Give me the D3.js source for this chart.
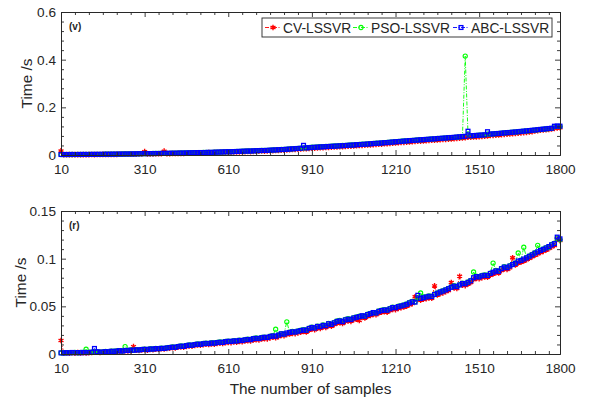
<!DOCTYPE html>
<html>
<head>
<meta charset="utf-8">
<script src="https://cdn.jsdelivr.net/npm/d3@7"></script>
<style>
  body { margin: 0; background: #fff; }
  svg { display: block; font-family: "Liberation Sans", Arial, Helvetica, sans-serif; }
</style>
</head>
<body>
<svg id="chart" width="589" height="399"></svg>
<script>
// Sample sizes on the shared horizontal axis
const sampleSizes = d3.range(10, 1801, 10);
const xTickValues = [10, 310, 610, 910, 1210, 1510, 1800];
const xTickLabels = ["10", "310", "610", "910", "1210", "1510", "1800"];

const seriesNames = ["CV-LSSVR", "PSO-LSSVR", "ABC-LSSVR"];

// Panel (v): computation time in seconds
const cvV = [
  0.0170,0.0012,0.0016,0.0013,0.0017,0.0014,0.0016,0.0015,0.0018,0.0016,
  0.0018,0.0020,0.0019,0.0022,0.0020,0.0023,0.0025,0.0024,0.0027,0.0026,
  0.0029,0.0031,0.0030,0.0034,0.0032,0.0036,0.0035,0.0039,0.0041,0.0044,
  0.0140,0.0045,0.0050,0.0048,0.0052,0.0051,0.0056,0.0160,0.0057,0.0061,
  0.0064,0.0062,0.0067,0.0070,0.0069,0.0074,0.0077,0.0080,0.0083,0.0086,
  0.0090,0.0088,0.0093,0.0097,0.0095,0.0101,0.0105,0.0109,0.0112,0.0117,
  0.0121,0.0119,0.0125,0.0130,0.0133,0.0138,0.0142,0.0147,0.0145,0.0153,
  0.0158,0.0162,0.0168,0.0166,0.0173,0.0178,0.0184,0.0190,0.0196,0.0202,
  0.0206,0.0214,0.0222,0.0230,0.0237,0.0244,0.0252,0.0262,0.0268,0.0276,
  0.0286,0.0292,0.0297,0.0305,0.0310,0.0316,0.0323,0.0330,0.0335,0.0342,
  0.0349,0.0354,0.0361,0.0370,0.0375,0.0381,0.0392,0.0397,0.0405,0.0411,
  0.0420,0.0427,0.0437,0.0444,0.0451,0.0459,0.0471,0.0476,0.0488,0.0496,
  0.0507,0.0513,0.0523,0.0533,0.0541,0.0551,0.0558,0.0566,0.0577,0.0585,
  0.0591,0.0601,0.0607,0.0618,0.0624,0.0635,0.0643,0.0650,0.0658,0.0669,
  0.0677,0.0685,0.0696,0.0706,0.0717,0.0725,0.0744,0.0747,0.0755,0.0763,
  0.0771,0.0779,0.0787,0.0800,0.0818,0.0826,0.0836,0.0844,0.0856,0.0868,
  0.0879,0.0887,0.0898,0.0907,0.0918,0.0930,0.0941,0.0951,0.0964,0.0976,
  0.1012,0.1026,0.1038,0.1050,0.1062,0.1076,0.1090,0.1120,0.1138,0.1142
];
const psoV = [
  0.0019,0.0020,0.0018,0.0021,0.0022,0.0019,0.0024,0.0022,0.0023,0.0025,
  0.0026,0.0025,0.0028,0.0027,0.0030,0.0029,0.0032,0.0034,0.0033,0.0036,
  0.0039,0.0038,0.0041,0.0042,0.0044,0.0045,0.0047,0.0050,0.0051,0.0054,
  0.0057,0.0058,0.0060,0.0062,0.0063,0.0065,0.0066,0.0069,0.0071,0.0072,
  0.0077,0.0078,0.0079,0.0084,0.0085,0.0086,0.0092,0.0094,0.0096,0.0101,
  0.0103,0.0106,0.0109,0.0111,0.0114,0.0118,0.0122,0.0124,0.0131,0.0133,
  0.0139,0.0141,0.0142,0.0150,0.0151,0.0159,0.0161,0.0168,0.0170,0.0175,
  0.0181,0.0185,0.0188,0.0192,0.0198,0.0204,0.0210,0.0216,0.0224,0.0230,
  0.0236,0.0243,0.0253,0.0262,0.0270,0.0278,0.0288,0.0296,0.0306,0.0312,
  0.0326,0.0330,0.0342,0.0346,0.0354,0.0360,0.0366,0.0374,0.0380,0.0386,
  0.0392,0.0398,0.0406,0.0414,0.0420,0.0428,0.0438,0.0444,0.0452,0.0460,
  0.0470,0.0476,0.0486,0.0494,0.0502,0.0510,0.0522,0.0530,0.0542,0.0552,
  0.0560,0.0568,0.0578,0.0588,0.0596,0.0606,0.0614,0.0622,0.0632,0.0640,
  0.0646,0.0656,0.0664,0.0674,0.0680,0.0692,0.0700,0.0708,0.0716,0.0726,
  0.0732,0.0740,0.0750,0.0760,0.0770,0.4150,0.0878,0.0804,0.0812,0.0820,
  0.0828,0.0836,0.0846,0.0870,0.0876,0.0884,0.0894,0.0902,0.0914,0.0926,
  0.0936,0.0944,0.0956,0.0964,0.0976,0.0988,0.1000,0.1010,0.1022,0.1034,
  0.1046,0.1058,0.1070,0.1082,0.1094,0.1108,0.1120,0.1186,0.1204,0.1200
];
const abcV = [
  0.0021,0.0018,0.0022,0.0019,0.0024,0.0020,0.0023,0.0021,0.0025,0.0022,
  0.0024,0.0027,0.0025,0.0029,0.0026,0.0030,0.0033,0.0031,0.0035,0.0034,
  0.0037,0.0040,0.0038,0.0043,0.0041,0.0046,0.0044,0.0049,0.0052,0.0055,
  0.0058,0.0055,0.0061,0.0059,0.0064,0.0062,0.0067,0.0070,0.0068,0.0073,
  0.0076,0.0074,0.0080,0.0083,0.0081,0.0087,0.0090,0.0093,0.0097,0.0100,
  0.0104,0.0102,0.0108,0.0112,0.0110,0.0117,0.0121,0.0125,0.0129,0.0134,
  0.0138,0.0136,0.0143,0.0148,0.0152,0.0157,0.0162,0.0167,0.0165,0.0174,
  0.0179,0.0184,0.0190,0.0188,0.0196,0.0202,0.0208,0.0214,0.0221,0.0228,
  0.0232,0.0241,0.0250,0.0258,0.0266,0.0274,0.0282,0.0405,0.0298,0.0306,
  0.0318,0.0324,0.0330,0.0338,0.0344,0.0350,0.0358,0.0365,0.0370,0.0378,
  0.0385,0.0391,0.0398,0.0408,0.0413,0.0420,0.0432,0.0437,0.0446,0.0452,
  0.0462,0.0470,0.0481,0.0488,0.0496,0.0505,0.0518,0.0523,0.0536,0.0544,
  0.0556,0.0562,0.0573,0.0584,0.0592,0.0603,0.0610,0.0618,0.0630,0.0638,
  0.0644,0.0655,0.0661,0.0672,0.0678,0.0690,0.0698,0.0706,0.0714,0.0726,
  0.0734,0.0742,0.0754,0.0764,0.0776,0.0784,0.0998,0.0806,0.0814,0.0822,
  0.0830,0.0838,0.0846,0.0978,0.0878,0.0886,0.0896,0.0904,0.0916,0.0928,
  0.0938,0.0946,0.0958,0.0966,0.0978,0.0990,0.1002,0.1012,0.1026,0.1038,
  0.1048,0.1062,0.1074,0.1086,0.1098,0.1112,0.1124,0.1208,0.1216,0.1210
];

// Panel (r): computation time in seconds
const cvR = [
  0.0142,0.0009,0.0012,0.0008,0.0013,0.0010,0.0014,0.0011,0.0013,0.0012,
  0.0015,0.0016,0.0021,0.0018,0.0017,0.0019,0.0022,0.0020,0.0026,0.0024,
  0.0028,0.0031,0.0027,0.0034,0.0033,0.0036,0.0077,0.0040,0.0038,0.0043,
  0.0046,0.0041,0.0049,0.0045,0.0052,0.0050,0.0055,0.0053,0.0058,0.0062,
  0.0066,0.0064,0.0071,0.0075,0.0073,0.0080,0.0085,0.0083,0.0090,0.0094,
  0.0093,0.0098,0.0103,0.0100,0.0106,0.0104,0.0110,0.0113,0.0111,0.0119,
  0.0122,0.0120,0.0126,0.0124,0.0131,0.0129,0.0136,0.0140,0.0138,0.0147,
  0.0151,0.0149,0.0157,0.0162,0.0159,0.0170,0.0176,0.0172,0.0183,0.0196,
  0.0192,0.0205,0.0210,0.0216,0.0214,0.0222,0.0229,0.0236,0.0232,0.0250,
  0.0262,0.0255,0.0272,0.0268,0.0283,0.0278,0.0300,0.0292,0.0309,0.0323,
  0.0330,0.0321,0.0340,0.0348,0.0343,0.0360,0.0366,0.0352,0.0383,0.0379,
  0.0396,0.0405,0.0416,0.0412,0.0430,0.0438,0.0443,0.0440,0.0456,0.0468,
  0.0466,0.0478,0.0486,0.0494,0.0503,0.0517,0.0529,0.0600,0.0572,0.0566,
  0.0574,0.0581,0.0588,0.0585,0.0714,0.0620,0.0632,0.0642,0.0655,0.0666,
  0.0750,0.0693,0.0688,0.0815,0.0722,0.0718,0.0734,0.0750,0.0782,0.0794,
  0.0790,0.0802,0.0808,0.0805,0.0826,0.0840,0.0854,0.0850,0.0877,0.0893,
  0.0887,0.0904,0.1010,0.0934,0.0956,0.0962,0.0976,0.0989,0.1005,0.1020,
  0.1037,0.1051,0.1065,0.1077,0.1091,0.1106,0.1124,0.1138,0.1205,0.1190
];
const psoR = [
  0.0011,0.0013,0.0012,0.0015,0.0014,0.0016,0.0013,0.0018,0.0016,0.0050,
  0.0018,0.0020,0.0024,0.0021,0.0020,0.0023,0.0026,0.0024,0.0031,0.0029,
  0.0033,0.0036,0.0032,0.0077,0.0038,0.0042,0.0040,0.0046,0.0044,0.0049,
  0.0052,0.0048,0.0055,0.0053,0.0059,0.0057,0.0062,0.0060,0.0066,0.0070,
  0.0074,0.0072,0.0080,0.0085,0.0082,0.0090,0.0096,0.0093,0.0101,0.0106,
  0.0103,0.0110,0.0114,0.0111,0.0118,0.0116,0.0122,0.0127,0.0123,0.0132,
  0.0136,0.0133,0.0140,0.0138,0.0145,0.0143,0.0151,0.0156,0.0152,0.0163,
  0.0168,0.0164,0.0173,0.0178,0.0175,0.0186,0.0193,0.0260,0.0200,0.0214,
  0.0211,0.0338,0.0229,0.0236,0.0233,0.0242,0.0249,0.0255,0.0252,0.0271,
  0.0282,0.0276,0.0293,0.0289,0.0305,0.0300,0.0322,0.0314,0.0331,0.0346,
  0.0352,0.0343,0.0362,0.0370,0.0365,0.0382,0.0389,0.0396,0.0398,0.0400,
  0.0418,0.0427,0.0432,0.0434,0.0452,0.0460,0.0466,0.0463,0.0478,0.0492,
  0.0489,0.0501,0.0508,0.0516,0.0525,0.0540,0.0552,0.0548,0.0590,0.0640,
  0.0600,0.0602,0.0610,0.0606,0.0628,0.0642,0.0654,0.0664,0.0676,0.0689,
  0.0704,0.0716,0.0710,0.0728,0.0744,0.0740,0.0756,0.0772,0.0860,0.0816,
  0.0812,0.0824,0.0830,0.0827,0.0849,0.0954,0.0876,0.0872,0.0899,0.0916,
  0.0909,0.0927,0.0942,0.0956,0.1060,0.0985,0.1120,0.1012,0.1029,0.1044,
  0.1062,0.1140,0.1090,0.1102,0.1116,0.1120,0.1149,0.1162,0.1215,0.1198
];
const abcR = [
  0.0012,0.0010,0.0014,0.0011,0.0016,0.0013,0.0015,0.0012,0.0017,0.0014,
  0.0016,0.0019,0.0058,0.0024,0.0018,0.0021,0.0025,0.0022,0.0029,0.0027,
  0.0031,0.0035,0.0030,0.0038,0.0036,0.0041,0.0039,0.0044,0.0042,0.0047,
  0.0050,0.0046,0.0053,0.0051,0.0057,0.0055,0.0060,0.0058,0.0064,0.0068,
  0.0072,0.0070,0.0078,0.0083,0.0080,0.0088,0.0094,0.0091,0.0099,0.0104,
  0.0101,0.0108,0.0112,0.0109,0.0116,0.0114,0.0120,0.0124,0.0121,0.0130,
  0.0134,0.0131,0.0138,0.0136,0.0143,0.0141,0.0149,0.0153,0.0150,0.0161,
  0.0165,0.0162,0.0171,0.0176,0.0173,0.0184,0.0190,0.0187,0.0198,0.0212,
  0.0208,0.0221,0.0226,0.0233,0.0230,0.0239,0.0246,0.0252,0.0249,0.0268,
  0.0279,0.0272,0.0290,0.0286,0.0301,0.0296,0.0318,0.0310,0.0327,0.0342,
  0.0348,0.0339,0.0358,0.0366,0.0361,0.0378,0.0385,0.0392,0.0402,0.0396,
  0.0414,0.0423,0.0435,0.0430,0.0448,0.0456,0.0462,0.0459,0.0474,0.0488,
  0.0485,0.0497,0.0504,0.0512,0.0521,0.0536,0.0548,0.0544,0.0616,0.0583,
  0.0590,0.0598,0.0606,0.0602,0.0624,0.0638,0.0650,0.0660,0.0672,0.0685,
  0.0700,0.0712,0.0706,0.0724,0.0740,0.0736,0.0752,0.0768,0.0800,0.0812,
  0.0808,0.0820,0.0826,0.0823,0.0845,0.0858,0.0872,0.0868,0.0895,0.0912,
  0.0905,0.0923,0.0938,0.0952,0.0975,0.0981,0.0996,0.1008,0.1025,0.1040,
  0.1058,0.1072,0.1086,0.1098,0.1112,0.1127,0.1145,0.1158,0.1226,0.1208
];

const yTicksV = [0, 0.2, 0.4, 0.6];
const yTickLabelsV = ["0", "0.2", "0.4", "0.6"];
const yTicksR = [0, 0.05, 0.1, 0.15];
const yTickLabelsR = ["0", "0.05", "0.1", "0.15"];

const colors = ["#ff0000", "#00ff00", "#0000ff"];
const ink = "#262626";
const plotLeft = 61, plotRight = 560;
const tickFont = 13.6, titleFont = 15.4;

const svg = d3.select("#chart");

const x = d3.scaleLinear().domain([10, 1800]).range([plotLeft, plotRight]);
const xMinor = d3.range(10, 1800, 50).filter(v => !xTickValues.includes(v));

const panels = [
  { tag: "(v)", top: 12, bottom: 155, yMax: 0.6, ticks: yTicksV, labels: yTickLabelsV, minorStep: 0.04,
    series: [cvV, psoV, abcV], legend: true, xTitle: false, yTitleX: 31.5 },
  { tag: "(r)", top: 211, bottom: 354, yMax: 0.15, ticks: yTicksR, labels: yTickLabelsR, minorStep: 0.01,
    series: [cvR, psoR, abcR], legend: false, xTitle: true, yTitleX: 25.5 }
];

// Draws one marker glyph for series k at (px, py)
function marker(g, k, px, py) {
  if (k === 0) {
    g.append("path")
      .attr("transform", `translate(${px},${py})`)
      .attr("d", d3.symbol(d3.symbolAsterisk, 22)())
      .attr("fill", "none").attr("stroke", colors[0]).attr("stroke-width", 1.4);
  } else if (k === 1) {
    g.append("circle").attr("cx", px).attr("cy", py).attr("r", 2.1)
      .attr("fill", "none").attr("stroke", colors[1]).attr("stroke-width", 1.1);
  } else {
    g.append("rect").attr("x", px - 1.9).attr("y", py - 1.9)
      .attr("width", 3.8).attr("height", 3.8)
      .attr("fill", "none").attr("stroke", colors[2]).attr("stroke-width", 1.3);
  }
}

function styleAxis(g) {
  g.selectAll("path, line").attr("stroke", ink).attr("stroke-width", 0.9);
  g.selectAll("text").attr("fill", ink).attr("font-size", tickFont)
    .attr("font-family", '"Liberation Sans", Arial, sans-serif');
}

panels.forEach(p => {
  const y = d3.scaleLinear().domain([0, p.yMax]).range([p.bottom, p.top]);
  const yMinor = d3.range(0, p.yMax + 1e-9, p.minorStep)
    .map(v => +v.toFixed(4)).filter(v => !p.ticks.some(t => Math.abs(t - v) < 1e-9));

  const g = svg.append("g");

  g.append("rect").attr("x", plotLeft).attr("y", p.top)
    .attr("width", plotRight - plotLeft).attr("height", p.bottom - p.top).attr("fill", "#fff");

  // Series: dash-dot lines with markers
  p.series.forEach((vals, k) => {
    const pts = sampleSizes.map((n, i) => [x(n), y(vals[i])]);
    g.append("path")
      .attr("d", d3.line()(pts))
      .attr("fill", "none").attr("stroke", colors[k]).attr("stroke-width", 0.9)
      .attr("stroke-dasharray", "4,1.5,1,1.5");
    const mg = g.append("g");
    pts.forEach(([px, py]) => marker(mg, k, px, py));
  });

  // Axes with inward ticks on all four sides
  const bottomAx = g.append("g").attr("transform", `translate(0,${p.bottom})`)
    .call(d3.axisBottom(x).tickValues(xTickValues).tickSizeInner(-5).tickSizeOuter(0).tickPadding(9)
      .tickFormat((d, i) => xTickLabels[i]));
  styleAxis(bottomAx);
  const bottomMinor = g.append("g").attr("transform", `translate(0,${p.bottom})`)
    .call(d3.axisBottom(x).tickValues(xMinor).tickSizeInner(-3).tickSizeOuter(0).tickFormat(""));
  styleAxis(bottomMinor);
  const topAx = g.append("g").attr("transform", `translate(0,${p.top})`)
    .call(d3.axisTop(x).tickValues(xTickValues).tickSizeInner(-5).tickSizeOuter(0).tickFormat(""));
  styleAxis(topAx);
  const topMinor = g.append("g").attr("transform", `translate(0,${p.top})`)
    .call(d3.axisTop(x).tickValues(xMinor).tickSizeInner(-3).tickSizeOuter(0).tickFormat(""));
  styleAxis(topMinor);

  const leftAx = g.append("g").attr("transform", `translate(${plotLeft},0)`)
    .call(d3.axisLeft(y).tickValues(p.ticks).tickSizeInner(-5).tickSizeOuter(0).tickPadding(5)
      .tickFormat((d, i) => p.labels[i]));
  styleAxis(leftAx);
  const leftMinor = g.append("g").attr("transform", `translate(${plotLeft},0)`)
    .call(d3.axisLeft(y).tickValues(yMinor).tickSizeInner(-3).tickSizeOuter(0).tickFormat(""));
  styleAxis(leftMinor);
  const rightAx = g.append("g").attr("transform", `translate(${plotRight},0)`)
    .call(d3.axisRight(y).tickValues(p.ticks).tickSizeInner(-5).tickSizeOuter(0).tickFormat(""));
  styleAxis(rightAx);
  const rightMinor = g.append("g").attr("transform", `translate(${plotRight},0)`)
    .call(d3.axisRight(y).tickValues(yMinor).tickSizeInner(-3).tickSizeOuter(0).tickFormat(""));
  styleAxis(rightMinor);

  // Panel tag
  g.append("text").attr("x", 69).attr("y", p.top + 18)
    .attr("font-size", 10).attr("font-weight", "bold").attr("fill", ink)
    .text(p.tag);

  // Vertical axis title
  g.append("text")
    .attr("transform", `translate(${p.yTitleX},${(p.top + p.bottom) / 2}) rotate(-90)`)
    .attr("text-anchor", "middle").attr("font-size", titleFont).attr("fill", ink)
    .text("Time /s");

  if (p.xTitle) {
    g.append("text").attr("x", (plotLeft + plotRight) / 2).attr("y", 393.5)
      .attr("text-anchor", "middle").attr("font-size", titleFont).attr("fill", ink)
      .text("The number of samples");
  }

  if (p.legend) {
    const lg = g.append("g");
    lg.append("rect").attr("x", 262).attr("y", 18).attr("width", 290).attr("height", 19)
      .attr("fill", "#fff").attr("stroke", ink).attr("stroke-width", 0.9);
    const itemX = [265, 353, 453];
    const ly = 27.5;
    seriesNames.forEach((name, k) => {
      lg.append("line").attr("x1", itemX[k]).attr("x2", itemX[k] + 16)
        .attr("y1", ly).attr("y2", ly)
        .attr("stroke", colors[k]).attr("stroke-width", 0.9).attr("stroke-dasharray", "4,1.5,1,1.5");
      marker(lg, k, itemX[k] + 8, ly);
      lg.append("text").attr("x", itemX[k] + 18).attr("y", ly + 5)
        .attr("font-size", 13.8).attr("fill", ink).text(name);
    });
  }
});
</script>
</body>
</html>
